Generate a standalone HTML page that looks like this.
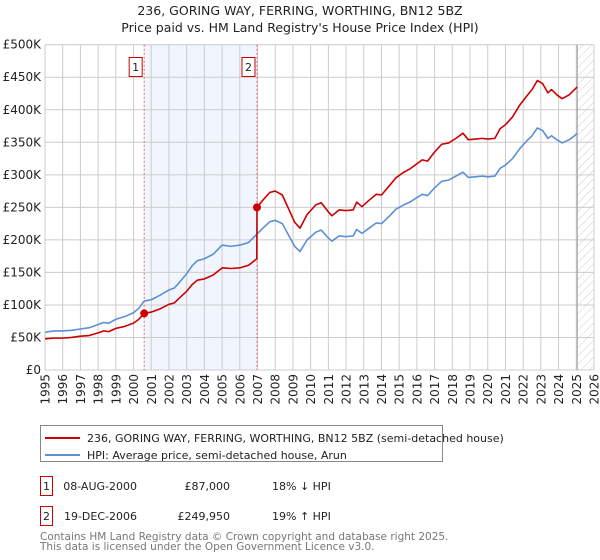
<!DOCTYPE html>
<html><head><meta charset="utf-8"><style>
body{margin:0;background:#fff;font-family:"DejaVu Sans","Liberation Sans",sans-serif;}
svg{display:block}
</style></head><body>
<svg id="chart" width="600" height="560" xmlns="http://www.w3.org/2000/svg" font-family="DejaVu Sans, Liberation Sans, sans-serif">
<text x="300" y="15" text-anchor="middle" font-size="12.5" fill="#222">236, GORING WAY, FERRING, WORTHING, BN12 5BZ</text>
<text x="300" y="32" text-anchor="middle" font-size="12.5" fill="#222">Price paid vs. HM Land Registry's House Price Index (HPI)</text>
<g id="plot"></g>
<g>
<rect x="40.5" y="425.5" width="402" height="36" fill="#fff" stroke="#888"/>
<line x1="45" y1="438" x2="80" y2="438" stroke="#cc0000" stroke-width="2"/>
<text x="87" y="442" font-size="11" fill="#222">236, GORING WAY, FERRING, WORTHING, BN12 5BZ (semi-detached house)</text>
<line x1="45" y1="455" x2="80" y2="455" stroke="#5b8fd6" stroke-width="2"/>
<text x="87" y="459" font-size="11" fill="#222">HPI: Average price, semi-detached house, Arun</text>
</g>
<g font-size="11" fill="#222">
<rect x="40.5" y="476.5" width="12" height="19" fill="#fff" stroke="#cc0000"/>
<text x="46.5" y="490" text-anchor="middle">1</text>
<text x="137" y="490" text-anchor="end">08-AUG-2000</text>
<text x="230" y="490" text-anchor="end">£87,000</text>
<text x="272" y="490">18% ↓ HPI</text>
<rect x="40.5" y="506.5" width="12" height="19" fill="#fff" stroke="#cc0000"/>
<text x="46.5" y="520" text-anchor="middle">2</text>
<text x="137" y="520" text-anchor="end">19-DEC-2006</text>
<text x="230" y="520" text-anchor="end">£249,950</text>
<text x="272" y="520">19% ↑ HPI</text>
</g>
<text x="40" y="540" font-size="10.5" fill="#777">Contains HM Land Registry data © Crown copyright and database right 2025.</text>
<text x="40" y="550" font-size="10.5" fill="#777">This data is licensed under the Open Government Licence v3.0.</text>
</svg>
<script>
const hpiDates=[1995.0,1995.5,1996.0,1996.5,1997.0,1997.5,1998.0,1998.3,1998.6,1999.0,1999.5,2000.0,2000.3,2000.6,2001.0,2001.5,2002.0,2002.3,2002.6,2003.0,2003.3,2003.6,2004.0,2004.5,2005.0,2005.5,2006.0,2006.5,2006.97,2007.3,2007.7,2008.0,2008.4,2008.8,2009.1,2009.4,2009.8,2010.3,2010.6,2011.0,2011.2,2011.6,2012.0,2012.4,2012.6,2012.9,2013.3,2013.7,2014.0,2014.5,2014.8,2015.2,2015.6,2016.0,2016.3,2016.6,2017.0,2017.4,2017.8,2018.2,2018.6,2018.9,2019.3,2019.7,2020.0,2020.4,2020.7,2021.0,2021.4,2021.8,2022.2,2022.5,2022.8,2023.1,2023.4,2023.6,2023.9,2024.2,2024.6,2024.9,2025.05];
const hpiValues=[58,60,60,61,63,65,70,73,72,78,82,88,95,106,108,115,123,126,135,148,160,168,171,178,192,190,192,196,209,218,228,230,225,205,190,182,200,212,215,203,198,206,205,206,216,210,218,226,225,238,247,253,258,265,270,268,280,290,292,298,304,296,297,298,297,298,310,315,325,340,352,360,372,368,356,360,354,349,354,360,364];
const priceDates=[1995.0,1995.5,1996.0,1996.5,1997.0,1997.5,1998.0,1998.3,1998.6,1999.0,1999.5,2000.0,2000.3,2000.6,2001.0,2001.5,2002.0,2002.3,2002.6,2003.0,2003.3,2003.6,2004.0,2004.5,2005.0,2005.5,2006.0,2006.5,2006.96,2006.97,2007.3,2007.7,2008.0,2008.4,2008.8,2009.1,2009.4,2009.8,2010.3,2010.6,2011.0,2011.2,2011.6,2012.0,2012.4,2012.6,2012.9,2013.3,2013.7,2014.0,2014.5,2014.8,2015.2,2015.6,2016.0,2016.3,2016.6,2017.0,2017.4,2017.8,2018.2,2018.6,2018.9,2019.3,2019.7,2020.0,2020.4,2020.7,2021.0,2021.4,2021.8,2022.2,2022.5,2022.8,2023.1,2023.4,2023.6,2023.9,2024.2,2024.6,2024.9,2025.05];
const priceValues=[48,49,49,50,52,53,57,60,59,64,67,72,78,87,89,94,101,103,111,121,131,138,140,146,157,156,157,161,171,250,261,273,275,269,245,227,218,239,254,257,243,237,246,245,246,258,251,261,270,269,285,295,303,309,317,323,321,335,347,349,356,364,354,355,356,355,356,371,377,389,407,421,431,445,440,426,431,423,417,423,431,435];
const saleDates=[2000.6,2006.97];
const saleValues=[87,249.95];
const saleLabels=["1","2"];
const yTicks=[0,50,100,150,200,250,300,350,400,450,500];
const yTickLabels=["£0","£50K","£100K","£150K","£200K","£250K","£300K","£350K","£400K","£450K","£500K"];
const xTicks=[1995,1996,1997,1998,1999,2000,2001,2002,2003,2004,2005,2006,2007,2008,2009,2010,2011,2012,2013,2014,2015,2016,2017,2018,2019,2020,2021,2022,2023,2024,2025,2026];

const L=45,R=594,T=44.7,B=370;
const xs=y=>L+(y-1995)/(2026-1995)*(R-L);
const ys=v=>B-v/500*(B-T);
const NS="http://www.w3.org/2000/svg";
const g=document.getElementById('plot');
function mk(t,a,p){const e=document.createElementNS(NS,t);for(const k in a)e.setAttribute(k,a[k]);(p||g).appendChild(e);return e;}
let sh=mk('rect',{x:xs(saleDates[0]),y:T,width:xs(saleDates[1])-xs(saleDates[0]),height:B-T,fill:'#eef3fc',opacity:'0.8'});


const defs=mk('defs',{});
const pat=mk('pattern',{id:'hatch',width:'6',height:'6',patternUnits:'userSpaceOnUse',patternTransform:'rotate(45)'},defs);
mk('line',{x1:0,y1:0,x2:0,y2:6,stroke:'#ccc','stroke-width':1},pat);
let ht=mk('rect',{x:xs(2025.05),y:T,width:R-xs(2025.05),height:B-T,fill:'url(#hatch)'});


yTicks.forEach((v,i)=>{
 mk('line',{x1:L,x2:R,y1:ys(v),y2:ys(v),stroke:'#ccc','stroke-width':1});
 const t=mk('text',{x:L-4,y:ys(v)+4,'text-anchor':'end','font-size':'12',fill:'#222'});
 t.textContent=yTickLabels[i];
 
 
});
xTicks.forEach(y=>{
 mk('line',{x1:xs(y),x2:xs(y),y1:T,y2:B,stroke:'#ccc','stroke-width':1});
 const tx=xs(y)+4.5, ty=374;
 const t=mk('text',{x:tx,y:ty,'text-anchor':'end','font-size':'12',fill:'#222',transform:'rotate(-90 '+tx+' '+ty+')'});
 t.textContent=String(y);
 
 
});
mk('line',{x1:xs(2025.05),x2:xs(2025.05),y1:T,y2:B,stroke:'#999','stroke-width':1});
saleDates.forEach((d,i)=>{
 mk('line',{x1:xs(d),x2:xs(d),y1:T,y2:B,stroke:'#e66','stroke-width':1,'stroke-dasharray':'2,2'});
 const bx=xs(d)-12-3;
 const r=mk('rect',{x:bx,y:57.5,width:13,height:19,fill:'#fff',stroke:'#cc0000'});
 
 
 const t=mk('text',{x:bx+6.5,y:71,'text-anchor':'middle','font-size':'11',fill:'#222'});
 t.textContent=saleLabels[i];
});
function line(ds,vs,col,name){
 const p=mk('polyline',{points:ds.map((d,i)=>xs(d)+','+ys(vs[i])).join(' '),fill:'none',stroke:col,'stroke-width':1.6,'stroke-linejoin':'round'});
 
 
}
line(hpiDates,hpiValues,'#5b8fd6','hpi-line');
line(priceDates,priceValues,'#cc0000','price-paid-line');
saleDates.forEach((d,i)=>{
 const c=mk('circle',{cx:xs(d),cy:ys(saleValues[i]),r:4,fill:'#cc0000'});
 
 
});
</script>
</body></html>
